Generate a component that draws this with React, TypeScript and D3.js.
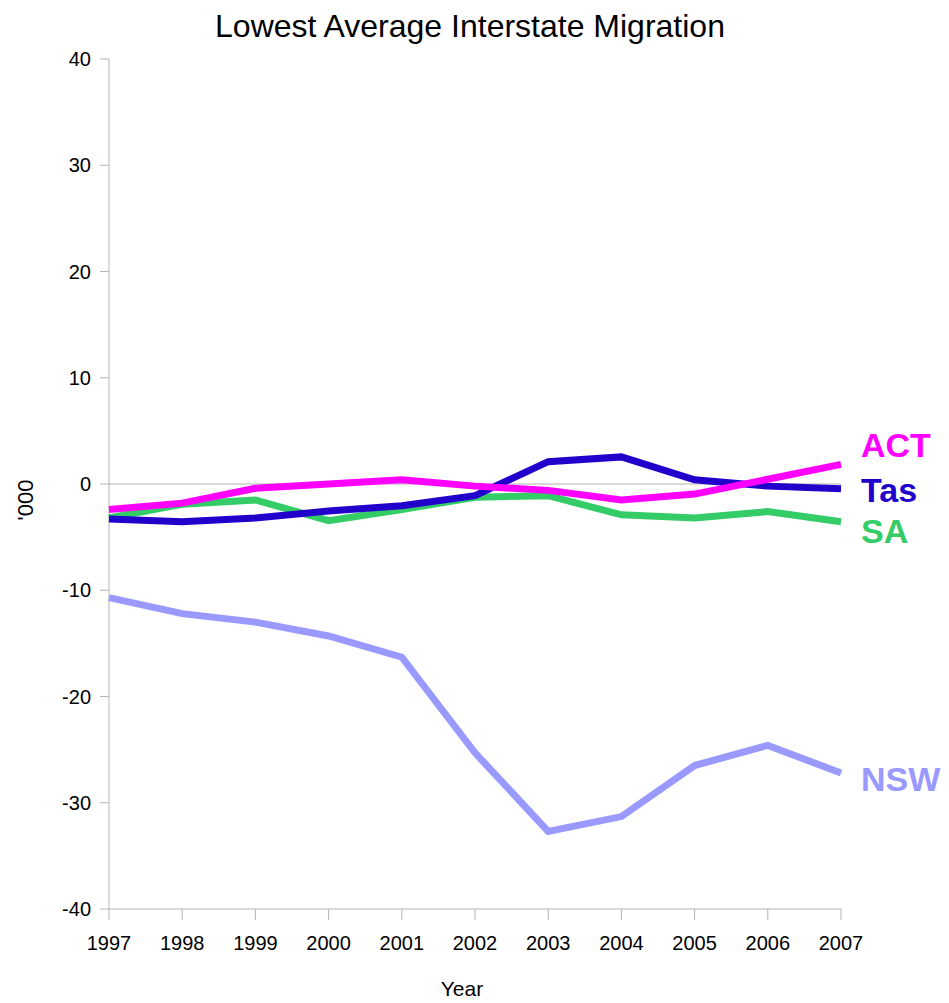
import React from 'react';
import * as d3 from 'd3';

const years = [1997, 1998, 1999, 2000, 2001, 2002, 2003, 2004, 2005, 2006, 2007];
const seriesNames = ['NSW', 'SA', 'Tas', 'ACT'];
const nswValues = [-10.7, -12.2, -13.0, -14.3, -16.3, -25.3, -32.7, -31.3, -26.5, -24.6, -27.2];
const saValues = [-3.2, -1.9, -1.5, -3.45, -2.4, -1.25, -1.1, -2.9, -3.2, -2.6, -3.55];
const tasValues = [-3.3, -3.55, -3.2, -2.55, -2.05, -1.1, 2.1, 2.55, 0.4, -0.2, -0.45];
const actValues = [-2.4, -1.8, -0.4, 0.0, 0.4, -0.2, -0.6, -1.5, -0.95, 0.45, 1.85];
const yTicks = [40, 30, 20, 10, 0, -10, -20, -30, -40];

const colors: Record<string, string> = {
  NSW: '#9999ff',
  SA: '#33cc66',
  Tas: '#2200cc',
  ACT: '#ff00ff',
};
// label nudges in px so the end labels don't collide
const labelNudge: Record<string, number> = { NSW: 6, SA: 9, Tas: 1, ACT: -19 };

const W = 949;
const H = 1003;
const margin = { left: 109, right: 108, top: 59, bottom: 94 };

export default function App() {
  const x = d3.scaleLinear().domain([1997, 2007]).range([margin.left, W - margin.right]);
  const y = d3.scaleLinear().domain([-40, 40]).range([H - margin.bottom, margin.top]);

  const valuesByName: Record<string, number[]> = {
    NSW: nswValues,
    SA: saValues,
    Tas: tasValues,
    ACT: actValues,
  };

  const line = d3
    .line<[number, number]>()
    .x(d => x(d[0]))
    .y(d => y(d[1]));

  const font = '"Liberation Sans", Arial, sans-serif';

  return (
    <svg width={W} height={H} style={{ position: 'absolute', left: 0, top: 0 }} fontFamily={font}>
      <rect width={W} height={H} fill="#fff" />
      <text x={470} y={37} textAnchor="middle" fontSize={32} fill="#000">
        Lowest Average Interstate Migration
      </text>

      {/* zero line */}
      <line x1={x(1997)} x2={x(2007)} y1={y(0)} y2={y(0)} stroke="#b3b3b3" strokeWidth={1} />

      {/* y axis */}
      <line x1={x(1997)} x2={x(1997)} y1={y(40)} y2={y(-40)} stroke="#b3b3b3" strokeWidth={1} />
      {yTicks.map(t => (
        <g key={t}>
          <line x1={x(1997) - 9} x2={x(1997)} y1={y(t)} y2={y(t)} stroke="#b3b3b3" />
          <text x={x(1997) - 18} y={y(t)} dy="0.35em" textAnchor="end" fontSize={20} fill="#000">
            {t}
          </text>
        </g>
      ))}

      {/* x axis */}
      <line x1={x(1997)} x2={x(2007)} y1={y(-40)} y2={y(-40)} stroke="#b3b3b3" strokeWidth={1} />
      {years.map(yr => (
        <g key={yr}>
          <line x1={x(yr)} x2={x(yr)} y1={y(-40)} y2={y(-40) + 11} stroke="#b3b3b3" />
          <text x={x(yr)} y={y(-40) + 41} textAnchor="middle" fontSize={20} fill="#000">
            {yr}
          </text>
        </g>
      ))}

      <text x={462} y={996} textAnchor="middle" fontSize={21} fill="#000">
        Year
      </text>
      <text
        transform={`translate(25, ${y(0) + 16}) rotate(-90)`}
        textAnchor="middle"
        dy="0.35em"
        fontSize={22}
        fill="#000"
      >
        '000
      </text>

      {seriesNames.map(name => {
        const vals = valuesByName[name];
        const pts = years.map((yr, i) => [yr, vals[i]] as [number, number]);
        return (
          <path
            key={name}
            d={line(pts) || ''}
            fill="none"
            stroke={colors[name]}
            strokeWidth={7}
            strokeLinejoin="miter"
          />
        );
      })}

      {seriesNames.map(name => {
        const vals = valuesByName[name];
        return (
          <text
            key={name + '-label'}
            x={x(2007) + 20}
            y={y(vals[vals.length - 1]) + labelNudge[name]}
            dy="0.35em"
            fontSize={34}
            fontWeight="bold"
            fill={colors[name]}
          >
            {name}
          </text>
        );
      })}
    </svg>
  );
}
